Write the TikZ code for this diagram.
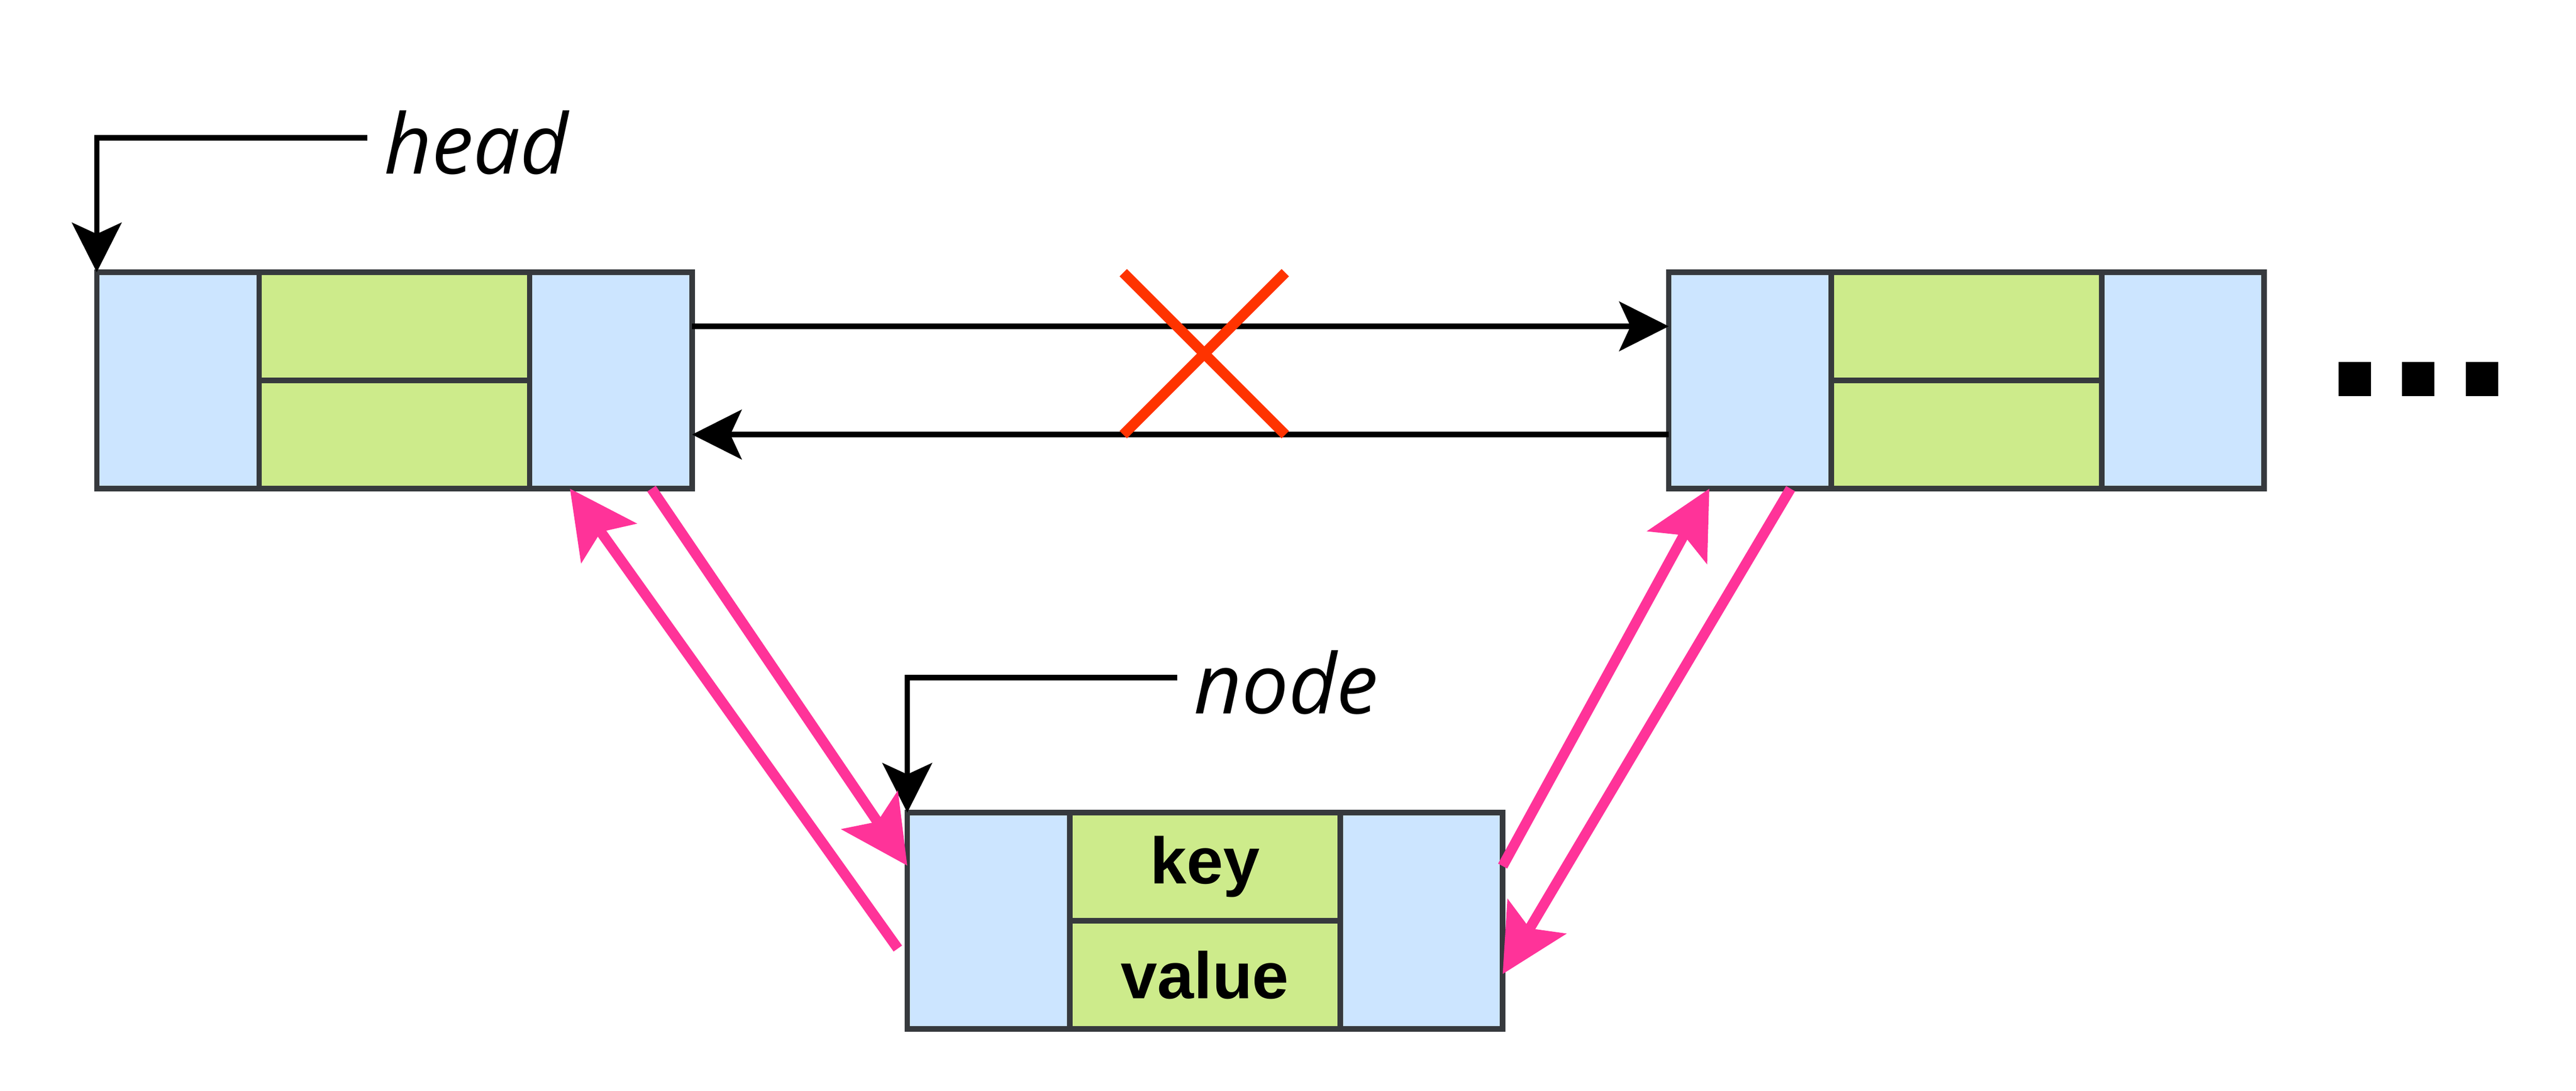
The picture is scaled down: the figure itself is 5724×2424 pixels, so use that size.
\documentclass[tikz,border=0pt]{standalone}
\usepackage{fontspec}
\usetikzlibrary{arrows.meta,calc}
\newfontfamily\lblfont{Open Sans}
\newfontfamily\cellfont{Liberation Sans}
\definecolor{cellblue}{HTML}{CCE5FF}
\definecolor{cellgreen}{HTML}{CDEB8B}
\definecolor{cellline}{HTML}{36393D}
\definecolor{linkpink}{HTML}{FF3399}
\definecolor{crossred}{HTML}{FF3300}
\begin{document}
\begin{tikzpicture}[x=0.1pt,y=-0.1pt,
  cell/.style={draw=cellline, line width=1.2pt, inner sep=0pt, outer sep=0pt, rectangle},
  ptr/.style={cell, fill=cellblue, minimum width=36.1pt, minimum height=48.1pt},
  dat/.style={cell, fill=cellgreen, minimum width=60.1pt, minimum height=24.05pt, font=\cellfont\bfseries\fontsize{14.6pt}{16pt}\selectfont},
  lbl/.style={font=\lblfont\itshape\fontsize{18.5pt}{20pt}\selectfont, inner sep=0pt, inner xsep=3.5pt, text height=16pt, text depth=0pt, anchor=west},
  blk/.style={draw=black, line width=1.2pt, -{Stealth[length=11pt,width=11pt,inset=2.5pt]}},
  lnk/.style={draw=linkpink, line width=2.3pt, -{Stealth[length=14.8pt,width=14.9pt,inset=3pt]}},
  cross/.style={draw=crossred, line width=2.3pt}
]
\useasboundingbox (0,0) rectangle (5724,2424);

% box 1 (head)
\node[ptr, anchor=north west] (b1l) at (215,605) {};
\node[dat, anchor=north west] (b1k) at (b1l.north east) {};
\node[dat, anchor=north west] (b1v) at (b1k.south west) {};
\node[ptr, anchor=north west] (b1r) at (b1k.north east) {};

% box 2 (right)
\node[ptr, anchor=north west] (b2l) at (3708,605) {};
\node[dat, anchor=north west] (b2k) at (b2l.north east) {};
\node[dat, anchor=north west] (b2v) at (b2k.south west) {};
\node[ptr, anchor=north west] (b2r) at (b2k.north east) {};

% box 3 (node)
\node[ptr, anchor=north west] (b3l) at (2016,1806) {};
\node[dat, anchor=north west] (b3k) at (b3l.north east) {key};
\node[dat, anchor=north west] (b3v) at (b3k.south west) {value};
\node[ptr, anchor=north west] (b3r) at (b3k.north east) {};

% labels
\node[lbl] (head) at (816,306) {head};
\node[lbl] (nodelbl) at (2616,1506) {node};
\node[font=\cellfont\bfseries\fontsize{51pt}{51pt}\selectfont, inner sep=0pt, anchor=base west] (more) at (5160,881) {...};

% label pointers
\draw[blk] (head.west) -| (b1l.north west);
\draw[blk] (nodelbl.west) -| (b3l.north west);

% old links between box 1 and box 2
\draw[blk] ($(b1r.north east)!0.25!(b1r.south east)$) -- ($(b2l.north west)!0.25!(b2l.south west)$);
\draw[blk] ($(b2l.north west)!0.75!(b2l.south west)$) -- ($(b1r.north east)!0.75!(b1r.south east)$);

% cross
\draw[cross] (2496,606) -- (2856,966);
\draw[cross] (2856,606) -- (2496,966);

% new links
\draw[lnk] ($(b3l.north west)!0.628!(b3l.south west)+(-21,0)$) -- ($(b1r.south west)!0.248!(b1r.south east)$);
\draw[lnk] ($(b1r.south west)!0.75!(b1r.south east)$) -- ($(b3l.north west)!0.245!(b3l.south west)$);
\draw[lnk] ($(b3r.north east)!0.247!(b3r.south east)$) -- ($(b2l.south west)!0.25!(b2l.south east)$);
\draw[lnk] ($(b2l.south west)!0.75!(b2l.south east)$) -- ($(b3r.north east)!0.746!(b3r.south east)$);
\end{tikzpicture}
\end{document}
